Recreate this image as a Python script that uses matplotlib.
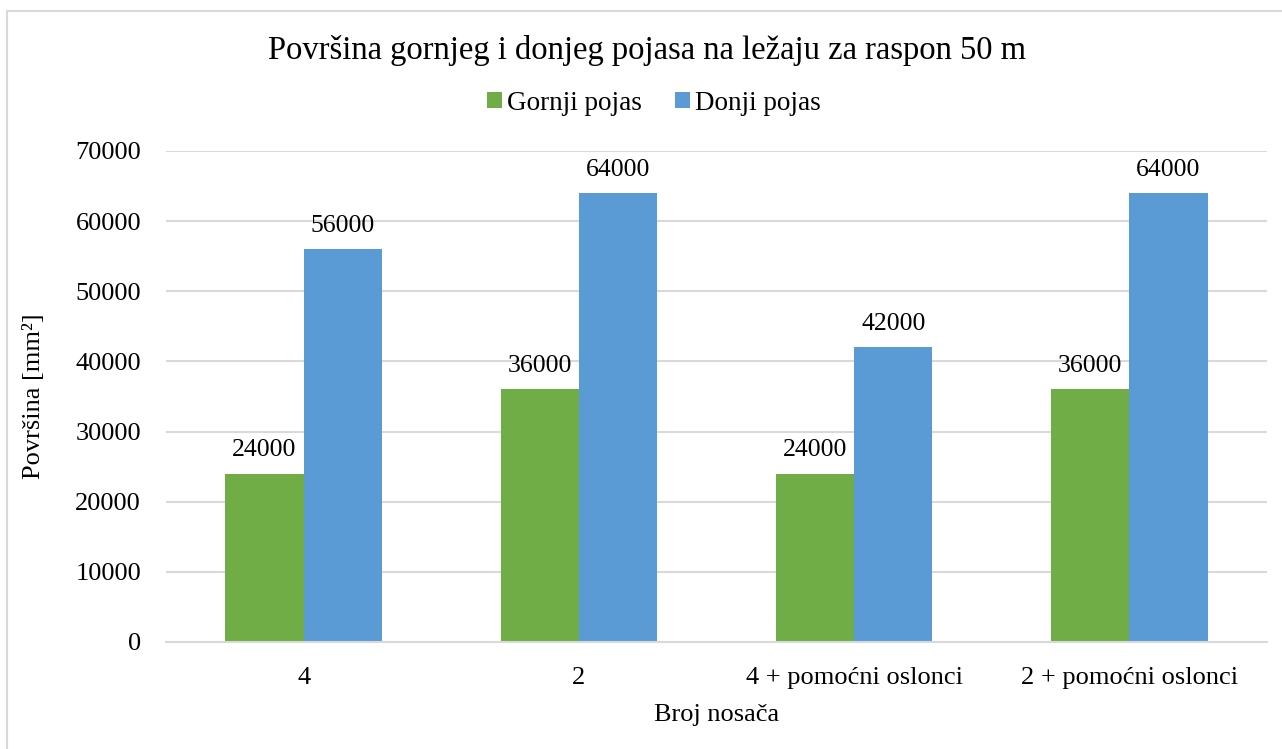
import numpy as np
import matplotlib
matplotlib.use("Agg")
import matplotlib.pyplot as plt
from matplotlib.patches import Rectangle

plt.rcParams["font.family"] = ["Liberation Serif", "DejaVu Serif"]

categories = ["4", "2", "4 + pomoćni oslonci", "2 + pomoćni oslonci"]
gornji = [24000, 36000, 24000, 36000]
donji = [56000, 64000, 42000, 64000]

GREEN = "#70ad47"
BLUE = "#5b9bd5"
GRID = "#d9d9d9"

fig = plt.figure(figsize=(12.82, 7.49), dpi=100)
ax = fig.add_axes([0.1295, 0.1429, 0.8588, 0.6555])

# chart frame (only top/left edges fall inside the picture)
fig.patches.append(Rectangle((7 / 1282, -0.1), 1.2, (749 - 11) / 749 + 0.1,
                             transform=fig.transFigure, fill=False,
                             edgecolor=GRID, linewidth=1.5))

x = np.arange(len(categories))
w = 0.284
b1 = ax.bar(x - w / 2, gornji, w, color=GREEN, label="Gornji pojas")
b2 = ax.bar(x + w / 2, donji, w, color=BLUE, label="Donji pojas")

for bars in (b1, b2):
    for bar in bars:
        h = bar.get_height()
        ax.annotate(f"{h:.0f}", (bar.get_x() + bar.get_width() / 2, h),
                    xytext=(0, 9), textcoords="offset points",
                    ha="center", va="bottom", fontsize=18.5)

ax.set_xlim(-0.5, len(categories) - 0.5)
ax.set_ylim(0, 70000)
ax.set_yticks(np.arange(0, 70001, 10000))
ax.set_xticks(x)
ax.set_xticklabels(categories)
ax.tick_params(axis="both", length=0, labelsize=19)
ax.tick_params(axis="y", pad=18)
ax.tick_params(axis="x", pad=18)
ax.yaxis.grid(True, color=GRID, linewidth=1.5)
ax.set_axisbelow(True)
for s in ("top", "right", "left"):
    ax.spines[s].set_visible(False)
ax.spines["bottom"].set_color(GRID)
ax.spines["bottom"].set_linewidth(1.5)

ax.set_ylabel("Površina [mm²]", fontsize=19, labelpad=22)
ax.set_xlabel("Broj nosača", fontsize=19, labelpad=11)

fig.text(0.505, 0.933, "Površina gornjeg i donjeg pojasa na ležaju za raspon 50 m",
         ha="center", va="center", fontsize=23.5)
fig.legend(loc="center", bbox_to_anchor=(0.51, 0.862), ncol=2, frameon=False,
           fontsize=19.5, handlelength=0.55, handleheight=0.55, handletextpad=0.2,
           columnspacing=1.2)

fig.savefig("out.png", dpi=100, facecolor="white")
